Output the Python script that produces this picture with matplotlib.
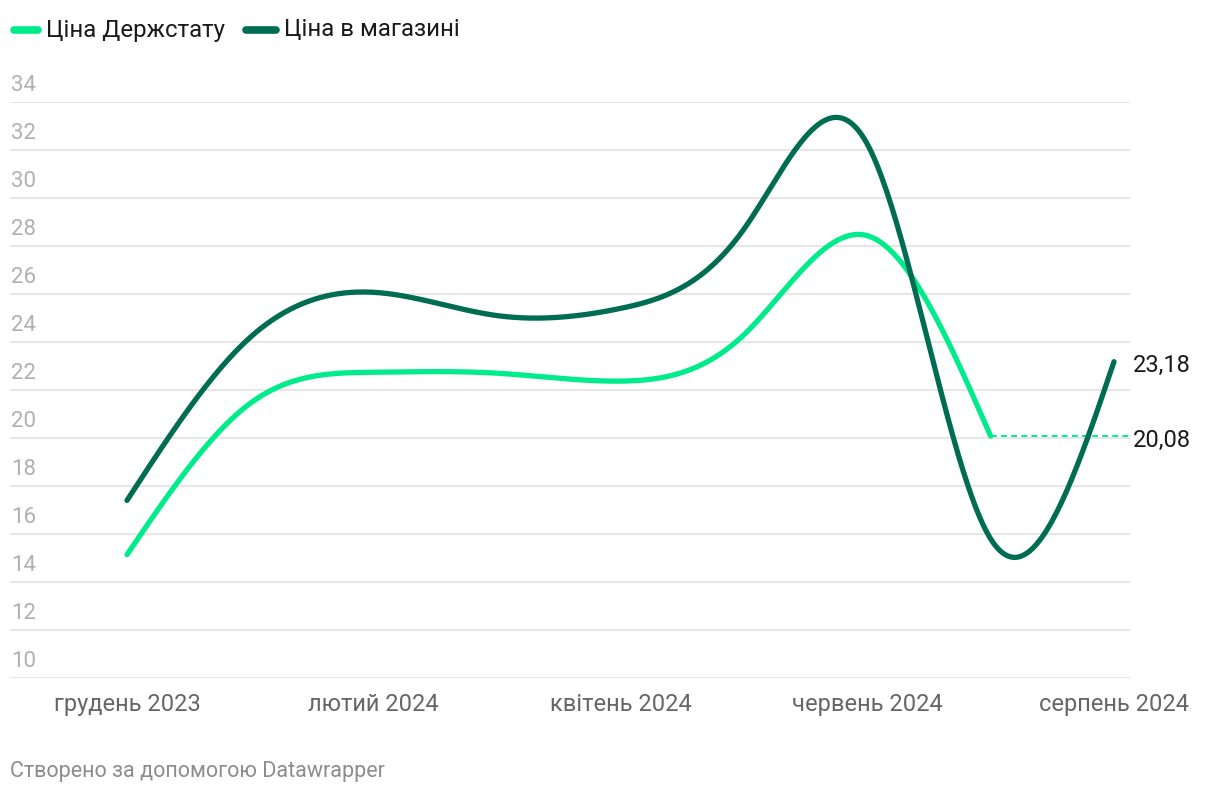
import numpy as np
import matplotlib
matplotlib.use("Agg")
import matplotlib.pyplot as plt
from matplotlib.lines import Line2D
from matplotlib.transforms import offset_copy

plt.rcParams['font.family'] = ['Roboto', 'DejaVu Sans']

# months Dec 2023 .. Aug 2024 (index positions)
months = np.arange(9)
tick_pos = [0, 2, 4, 6, 8]
tick_labels = ["грудень 2023", "лютий 2024", "квітень 2024", "червень 2024", "серпень 2024"]

# Ціна Держстату (no value for August)
stat_price = [15.14, 21.45, 22.74, 22.7, 22.37, 24.3, 28.43, 20.08]
# Ціна в магазині
shop_price = [17.4, 24.2, 26.07, 25.1, 25.4, 28.7, 32.25, 15.8, 23.18]

y_ticks = list(range(10, 35, 2))

LIGHT = "#00ec8b"
DARK = "#006d52"


def natural_spline(x, y, n=400):
    # natural cubic spline, same idea as d3.curveNatural
    x = np.asarray(x, float)
    y = np.asarray(y, float)
    k = len(x)
    h = np.diff(x)
    A = np.zeros((k, k))
    b = np.zeros(k)
    A[0, 0] = 1
    A[-1, -1] = 1
    for i in range(1, k - 1):
        A[i, i - 1] = h[i - 1]
        A[i, i] = 2 * (h[i - 1] + h[i])
        A[i, i + 1] = h[i]
        b[i] = 6 * ((y[i + 1] - y[i]) / h[i] - (y[i] - y[i - 1]) / h[i - 1])
    M = np.linalg.solve(A, b)
    xs = np.linspace(x[0], x[-1], n)
    idx = np.clip(np.searchsorted(x, xs) - 1, 0, k - 2)
    x0, x1 = x[idx], x[idx + 1]
    hh = x1 - x0
    t0 = x1 - xs
    t1 = xs - x0
    ys = (M[idx] * t0 ** 3 / (6 * hh) + M[idx + 1] * t1 ** 3 / (6 * hh)
          + (y[idx] / hh - M[idx] * hh / 6) * t0
          + (y[idx + 1] / hh - M[idx + 1] * hh / 6) * t1)
    return xs, ys


W, H = 1220, 794
fig = plt.figure(figsize=(W / 100, H / 100), dpi=100)

px_per_month = (1114 - 127) / 8
left_px, right_px = 10, 1130
top_px, bottom_px = 102, 678
ax = fig.add_axes([left_px / W, 1 - bottom_px / H,
                   (right_px - left_px) / W, (bottom_px - top_px) / H])
ax.set_xlim(-(127 - left_px) / px_per_month, (right_px - 127) / px_per_month)
ax.set_ylim(10, 34)

for v in y_ticks:
    ax.axhline(v, color="#e4e4e4", lw=1.3, zorder=0)

lbl_tr = offset_copy(ax.get_yaxis_transform(), fig=fig, x=1, y=11, units='dots')
for v in y_ticks:
    ax.text(0, v, str(v), transform=lbl_tr, ha='left', va='baseline',
            fontsize=16, color="#b0b0b0")

xs, ys = natural_spline(months[:len(stat_price)], stat_price)
ax.plot(xs, ys, color=LIGHT, lw=3.8, solid_capstyle='round', clip_on=False, zorder=3)
xs, ys = natural_spline(months, shop_price)
ax.plot(xs, ys, color=DARK, lw=3.8, solid_capstyle='round', clip_on=False, zorder=4)

# dotted continuation of the last known Держстат value
last_x = months[len(stat_price) - 1]
ax.plot([last_x, ax.get_xlim()[1]], [stat_price[-1]] * 2, color=LIGHT,
        lw=1.4, ls=(0, (3, 2.2)), zorder=2, clip_on=False)

lab_tr = offset_copy(ax.transData, fig=fig, x=19, y=-4, units='dots')
ax.text(months[-1], shop_price[-1], f"{shop_price[-1]:.2f}".replace(".", ","),
        transform=lab_tr, ha='left', va='center', fontsize=17, color="#1a1a1a")
ax.text(months[-1], stat_price[-1], f"{stat_price[-1]:.2f}".replace(".", ","),
        transform=lab_tr, ha='left', va='center', fontsize=17, color="#1a1a1a")

ax.set_xticks(tick_pos)
ax.set_xticklabels(tick_labels, fontsize=17, color="#666666")
ax.tick_params(axis='x', length=0, pad=11)
ax.set_yticks([])
for s in ax.spines.values():
    s.set_visible(False)

# legend
def fx(p):
    return p / W


def fy(p):
    return 1 - p / H


fig.add_artist(Line2D([fx(14), fx(38)], [fy(30), fy(30)], color=LIGHT, lw=5.5,
                      solid_capstyle='round', transform=fig.transFigure))
fig.text(fx(46), fy(30), "Ціна Держстату", fontsize=17.3, color="#1a1a1a",
         ha='left', va='center')
fig.add_artist(Line2D([fx(246), fx(276)], [fy(30), fy(30)], color=DARK, lw=5.5,
                      solid_capstyle='round', transform=fig.transFigure))
fig.text(fx(284), fy(30), "Ціна в магазині", fontsize=17.3, color="#1a1a1a",
         ha='left', va='center')

fig.text(fx(10), fy(771), "Створено за допомогою Datawrapper", fontsize=15.5,
         color="#8c8c8c", ha='left', va='center')

fig.savefig("out.png", dpi=100, facecolor="white")
